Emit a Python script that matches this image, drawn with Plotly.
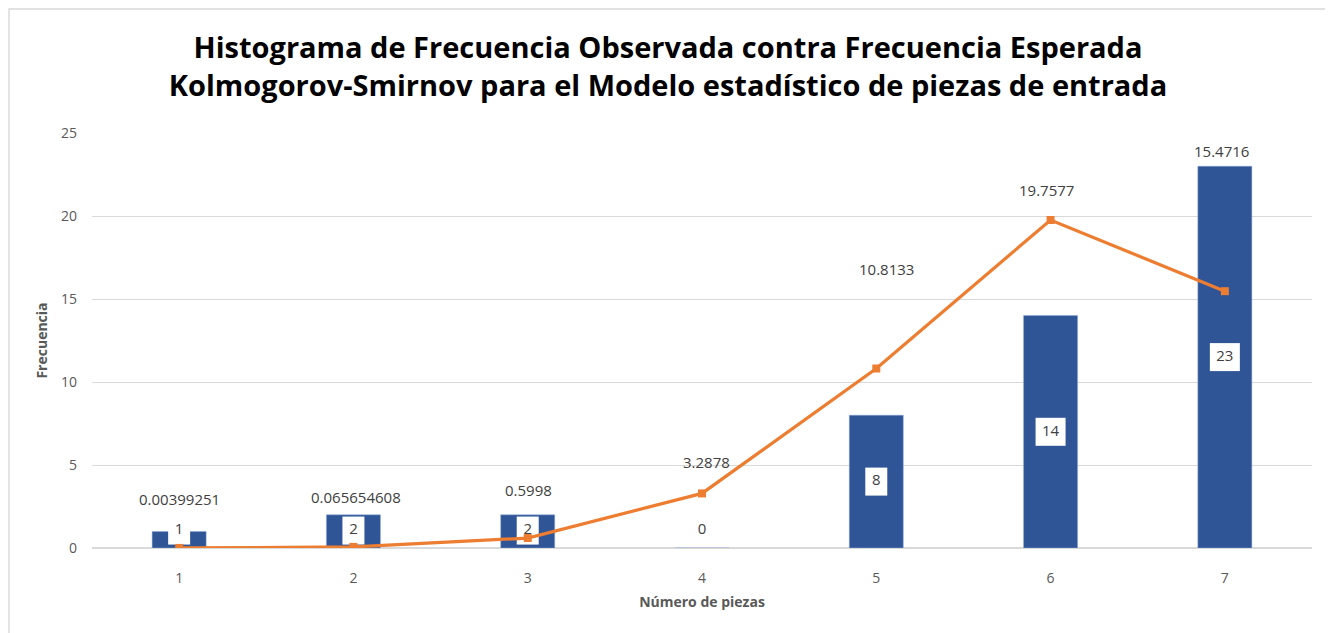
import plotly.graph_objects as go

categories = [1, 2, 3, 4, 5, 6, 7]
observed = [1, 2, 2, 0, 8, 14, 23]
expected = [0.00399251, 0.065654608, 0.5998, 3.2878, 10.8133, 19.7577, 15.4716]
expected_labels = ["0.00399251", "0.065654608", "0.5998", "3.2878", "10.8133", "19.7577", "15.4716"]
y_ticks = [0, 5, 10, 15, 20, 25]

# label placement offsets (pixels) for the expected-value labels
exp_yshift = [49, 50, 48, 31, 100, 30, 140]
exp_xshift = [0, 3, 1, 4, 10, -4, -3]

FONT = "Open Sans"
GRAY = "#595959"
BLUE = "#2F5597"
ORANGE = "#ED7D31"

xcat = [str(c) for c in categories]
xpos = list(range(len(categories)))

fig = go.Figure()
fig.add_trace(go.Bar(
    x=xcat, y=observed, marker=dict(color=BLUE, line=dict(color="#8FAADC", width=0.5)),
    width=0.31, name="Observada", showlegend=False, hoverinfo="x+y",
))

# white label boxes centred in the bars (drawn beneath the expected line)
obs_label_y = [max(v / 2, 1.05) for v in observed]
box_w = [14 + 8 * len(str(v)) for v in observed]
fig.add_trace(go.Scatter(
    x=xcat, y=obs_label_y, mode="markers+text",
    marker=dict(symbol="line-ns", size=20, color="white",
                line=dict(color="white", width=box_w)),
    text=[str(v) for v in observed], textposition="middle center",
    textfont=dict(family=FONT, size=15, color="#404040"),
    showlegend=False, hoverinfo="skip",
))

fig.add_trace(go.Scatter(
    x=xcat, y=expected, mode="lines+markers",
    line=dict(color=ORANGE, width=3.2),
    marker=dict(symbol="square", size=8, color=ORANGE),
    name="Esperada", showlegend=False,
))

annotations = []
for p, v, t, ys, xs in zip(xpos, expected, expected_labels, exp_yshift, exp_xshift):
    annotations.append(dict(
        x=p, y=v, xref="x", yref="y", text=t, showarrow=False,
        yshift=ys, xshift=xs,
        font=dict(family=FONT, size=15, color="#404040"),
    ))

fig.update_layout(
    width=1333, height=633,
    paper_bgcolor="white", plot_bgcolor="white",
    margin=dict(l=84, r=29, t=125, b=93),
    title=dict(
        text="Histograma de Frecuencia Observada contra Frecuencia Esperada<br>Kolmogorov-Smirnov para el Modelo estadístico de piezas de entrada",
        x=(668 - 8) / 1333, xanchor="center", yref="container", y=1 - 50 / 633, yanchor="middle",
        font=dict(family=FONT, size=29, color="black", weight="bold"),
    ),
    annotations=annotations,
    shapes=[dict(type="rect", xref="paper", yref="paper", x0=-0.068, x1=1.1, y0=-0.3, y1=1.2988,
                 line=dict(color="#D9D9D9", width=1.5))],
)
fig.update_xaxes(
    type="category", range=[-0.5, 6.5], showgrid=False, showline=False, ticks="",
    ticklabelstandoff=20,
    tickfont=dict(family=FONT, size=14, color=GRAY),
    title=dict(text="Número de piezas", font=dict(family=FONT, size=14, color=GRAY, weight="bold"), standoff=11),
)
fig.update_yaxes(
    range=[0, 25], tickvals=y_ticks, showgrid=True, gridcolor="#D9D9D9", gridwidth=1,
    zeroline=True, zerolinecolor="#D9D9D9", zerolinewidth=2,
    ticks="", ticklabelstandoff=14,
    tickfont=dict(family=FONT, size=14, color=GRAY),
    title=dict(text="Frecuencia", font=dict(family=FONT, size=14, color=GRAY, weight="bold"), standoff=10),
)

fig.write_html("out.html")
